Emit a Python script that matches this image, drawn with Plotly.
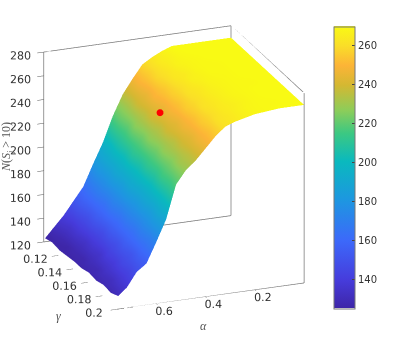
"""Surface of N(S_j > 10) over alpha and gamma."""

import plotly.graph_objects as go

alpha = [0.755, 0.72, 0.68, 0.64, 0.60, 0.56, 0.52, 0.48, 0.44, 0.40, 0.36, 0.32, 0.28, 0.24, 0.20, 0.15, 0.10, 0.05, 0.0]
gamma = [0.10, 0.11, 0.12, 0.13, 0.14, 0.15, 0.16, 0.17, 0.18, 0.19, 0.20]
counts = [
    [123, 131, 140, 151, 162, 180, 197, 218, 235, 247, 258, 263, 267, 270, 270, 270, 270, 270, 270],
    [125, 128, 136, 153, 166, 184, 199, 221, 234, 249, 256, 264, 266, 269, 270, 270, 270, 270, 270],
    [124, 126, 138, 149, 168, 183, 204, 219, 238, 245, 258, 262, 267, 268, 269, 270, 270, 270, 270],
    [125, 128, 134, 152, 164, 188, 203, 226, 235, 249, 254, 263, 264, 268, 269, 269, 270, 270, 270],
    [126, 127, 137, 147, 169, 184, 209, 222, 239, 244, 255, 260, 266, 267, 269, 269, 270, 270, 270],
    [126, 130, 135, 151, 164, 189, 205, 227, 234, 247, 253, 261, 263, 267, 268, 269, 270, 270, 270],
    [128, 129, 141, 149, 168, 184, 210, 223, 238, 243, 255, 259, 264, 266, 268, 269, 269, 270, 270],
    [127, 133, 140, 154, 165, 188, 207, 228, 234, 246, 252, 261, 263, 266, 268, 269, 270, 270, 270],
    [129, 132, 145, 151, 170, 185, 214, 225, 237, 243, 254, 259, 264, 265, 267, 269, 270, 270, 270],
    [128, 136, 144, 156, 168, 191, 212, 230, 235, 246, 252, 261, 263, 266, 268, 269, 269, 270, 270],
    [131, 137, 149, 155, 172, 190, 218, 229, 236, 245, 254, 261, 264, 266, 268, 269, 270, 270, 270],
]

best_alpha = [0.428]
best_gamma = [0.147]
best_count = [246]

alpha_range = [0, 0.76]
gamma_range = [0.1, 0.2]
count_range = [120, 280]

alpha_ticks = [0.2, 0.4, 0.6]
gamma_ticks = [0.12, 0.14, 0.16, 0.18, 0.2]
count_ticks = [120, 140, 160, 180, 200, 220, 240, 260, 280]
bar_ticks = [140, 160, 180, 200, 220, 240, 260]

parula = [
    [0.0, "rgb(62,38,168)"],
    [0.1, "rgb(70,60,220)"],
    [0.24, "rgb(60,105,250)"],
    [0.38, "rgb(30,150,225)"],
    [0.52, "rgb(10,185,190)"],
    [0.62, "rgb(60,200,130)"],
    [0.7, "rgb(140,205,90)"],
    [0.79, "rgb(212,184,50)"],
    [0.86, "rgb(252,180,55)"],
    [0.93, "rgb(250,222,40)"],
    [1.0, "rgb(249,250,20)"],
]

fig = go.Figure()

fig.add_trace(
    go.Surface(
        x=alpha,
        y=gamma,
        z=counts,
        colorscale=parula,
        cmin=125,
        cmax=270,
        lighting=dict(ambient=1, diffuse=0, specular=0, fresnel=0, roughness=1),
        hoverinfo="skip",
        colorbar=dict(
            x=334 / 407,
            xanchor="left",
            xpad=0,
            y=1 - 26.5 / 346,
            yanchor="top",
            ypad=0,
            thickness=21,
            thicknessmode="pixels",
            len=281.5,
            lenmode="pixels",
            outlinecolor="#777777",
            outlinewidth=1,
            tickvals=bar_ticks,
            ticks="inside",
            ticklen=3,
            tickcolor="#444444",
            tickfont=dict(family="DejaVu Sans", size=10, color="#333333"),
        ),
    )
)

# Box edges on the three back faces
a0, a1 = alpha_range
g0, g1 = gamma_range
c0, c1 = count_range
edges = [
    ([a1, a1], [g0, g1], [c0, c0]),
    ([a1, a0], [g1, g1], [c0, c0]),
    ([a1, a0], [g0, g0], [c0, c0]),
    ([a0, a0], [g0, g1], [c0, c0]),
    ([a1, a1], [g0, g0], [c0, c1]),
    ([a0, a0], [g0, g0], [c0, c1]),
    ([a0, a0], [g1, g1], [c0, c1]),
    ([a1, a0], [g0, g0], [c1, c1]),
    ([a0, a0], [g0, g1], [c1, c1]),
]
for ex, ey, ez in edges:
    fig.add_trace(
        go.Scatter3d(
            x=ex, y=ey, z=ez, mode="lines", line=dict(color="#777777", width=1.5), hoverinfo="skip", showlegend=False
        )
    )

fig.add_trace(
    go.Scatter3d(
        x=best_alpha,
        y=best_gamma,
        z=best_count,
        mode="markers",
        marker=dict(color="#ff0000", size=4),
        hoverinfo="skip",
        showlegend=False,
    )
)

axis_style = dict(
    showgrid=False,
    zeroline=False,
    showbackground=False,
    showspikes=False,
    showline=False,
    ticks="outside",
    tickangle=0,
    tickcolor="#555555",
    tickfont=dict(family="DejaVu Sans", size=11.5, color="#333333"),
    title=dict(text=""),
)

title_font = dict(family="Liberation Serif", size=12, color="#555555")

fig.update_layout(
    width=407,
    height=346,
    margin=dict(l=0, r=0, t=0, b=0),
    paper_bgcolor="white",
    showlegend=False,
    scene=dict(
        domain=dict(x=[0, 348 / 407], y=[1 - 335 / 346, 1]),
        aspectmode="manual",
        aspectratio=dict(x=1.2, y=1.2, z=1.215),
        camera=dict(
            projection=dict(type="orthographic"),
            eye=dict(x=0.68, y=1.74, z=0.72),
            center=dict(x=0, y=0, z=0),
            up=dict(x=0, y=0, z=1),
        ),
        xaxis=dict(range=alpha_range, tickvals=alpha_ticks, ticklen=7, **axis_style),
        yaxis=dict(range=gamma_range, tickvals=gamma_ticks, ticklen=3, **axis_style),
        zaxis=dict(range=count_range, tickvals=count_ticks, ticklen=1, **axis_style),
    ),
    annotations=[
        dict(text="<i>α</i>", x=203 / 407, y=1 - 326 / 346, xref="paper", yref="paper", showarrow=False,
             xanchor="center", yanchor="middle", font=title_font),
        dict(text="<i>γ</i>", x=58 / 407, y=1 - 316 / 346, xref="paper", yref="paper", showarrow=False,
             xanchor="center", yanchor="middle", font=title_font),
        dict(text="<i>N</i>(<i>S<sub>j</sub></i> > 10)", x=7 / 407, y=1 - 147 / 346, xref="paper", yref="paper",
             xanchor="center", yanchor="middle", showarrow=False, textangle=-90, font=title_font),
    ],
)

# The page's default body margin would push the figure off its intended position
fig.write_html(
    "out.html",
    config=dict(displayModeBar=False),
    post_script="document.body.style.margin='0';",
)
